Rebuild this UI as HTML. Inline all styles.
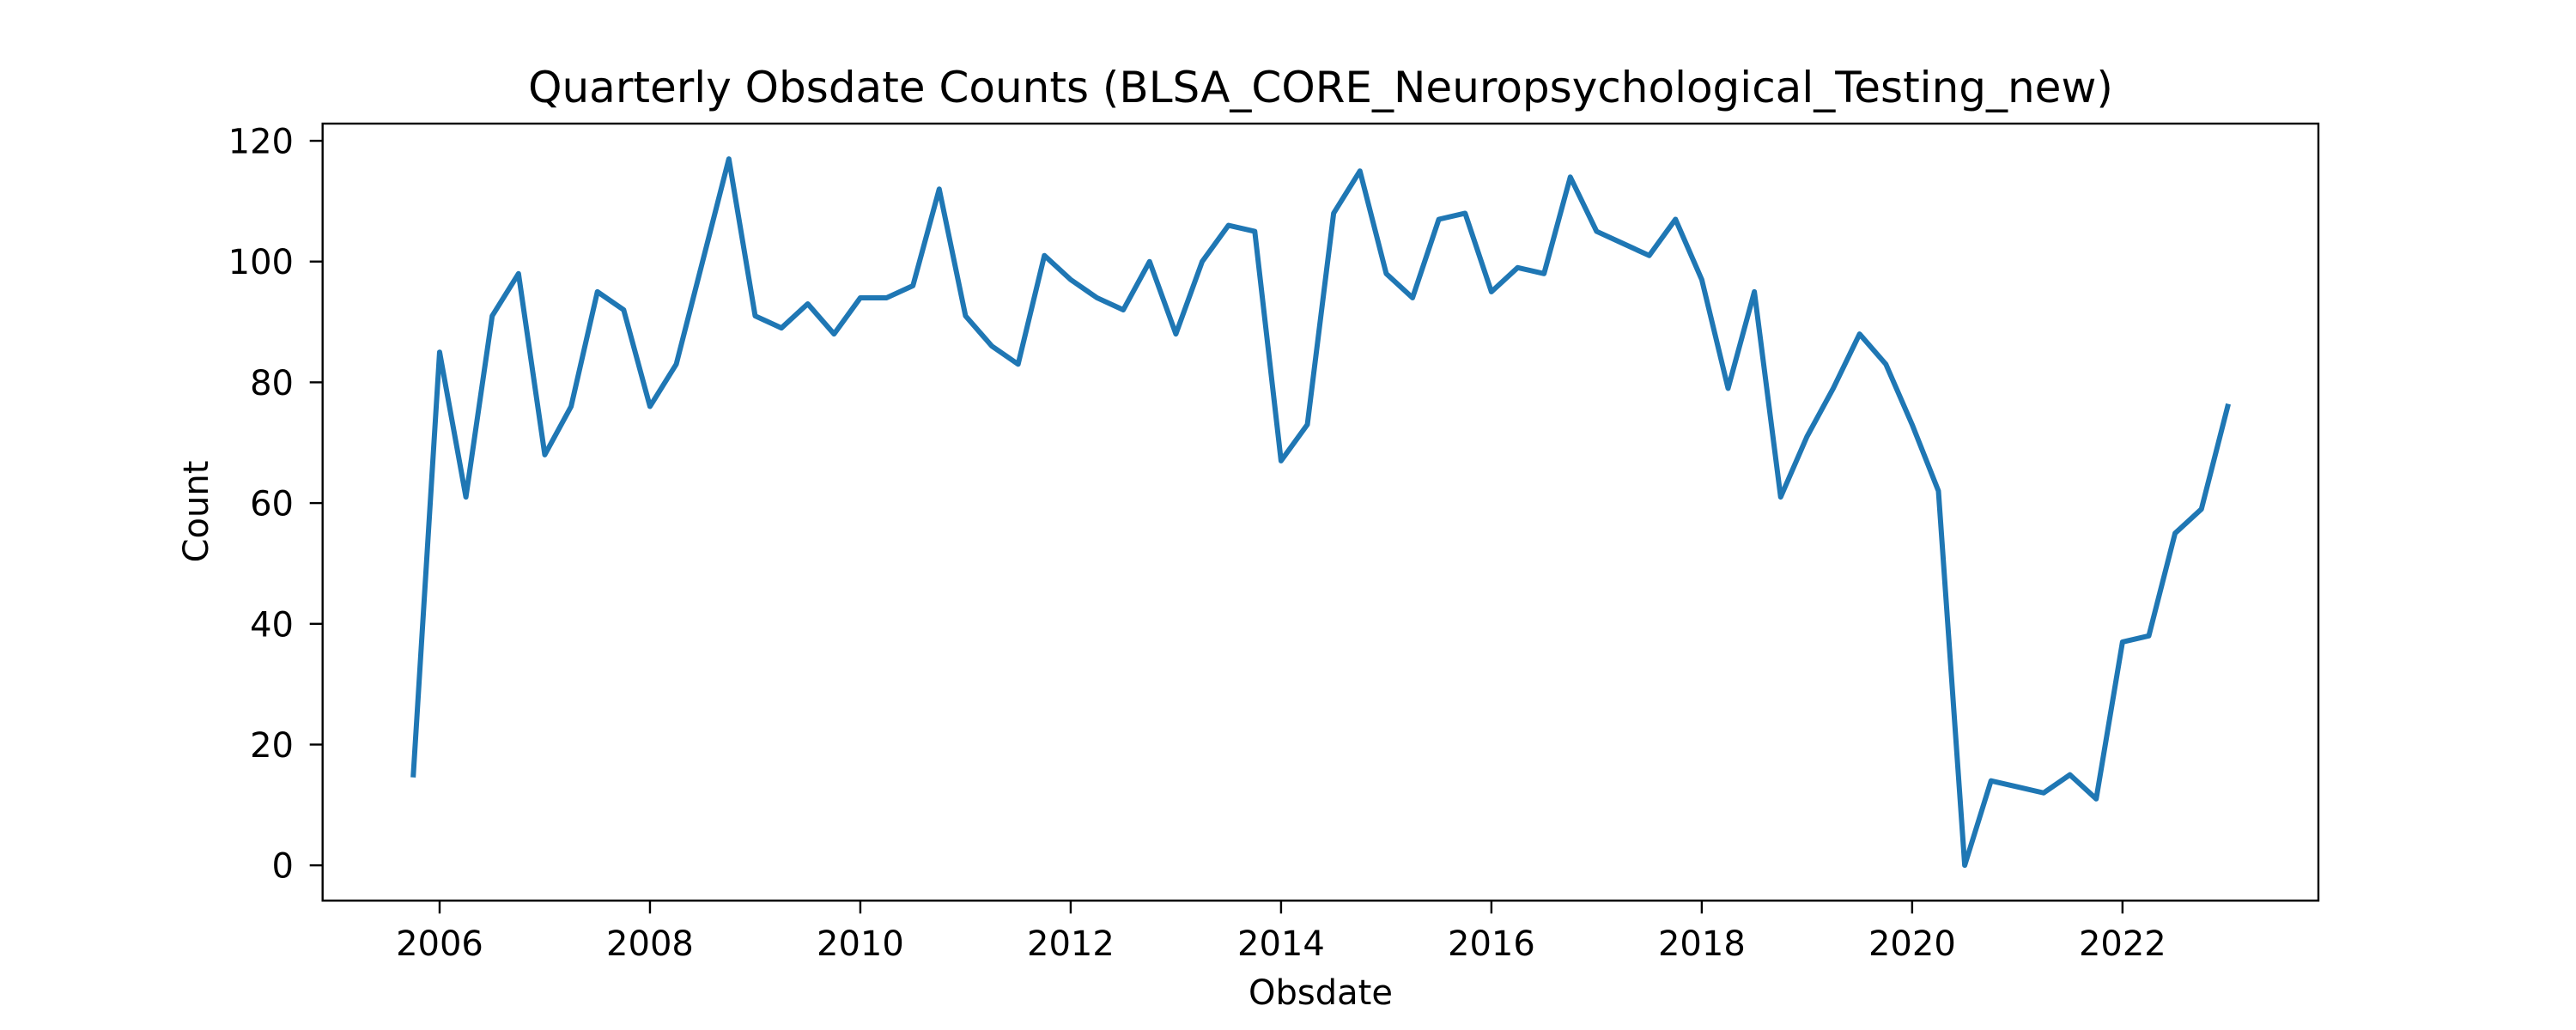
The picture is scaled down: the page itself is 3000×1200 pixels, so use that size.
<!DOCTYPE html>
<html><head><meta charset="utf-8"><style>
html,body{margin:0;padding:0;background:#fff;}
svg{display:block;font-family:"DejaVu Sans","Liberation Sans",sans-serif;}
</style></head><body>
<svg id="chart" width="3000" height="1200" viewBox="0 0 3000 1200" xmlns="http://www.w3.org/2000/svg">
<rect width="3000" height="1200" fill="#fff"/>
<text x="1538" y="119" font-size="50" text-anchor="middle">Quarterly Obsdate Counts (BLSA_CORE_Neuropsychological_Testing_new)</text>
<g id="plot"></g>
<text x="1538" y="1170" font-size="40" text-anchor="middle">Obsdate</text>
<text transform="translate(242,596) rotate(-90)" font-size="40" text-anchor="middle">Count</text>
</svg>
<script>
const startYear = 2005.75;
const quarterStep = 0.25;
const counts = [15,85,61,91,98,68,76,95,92,76,83,100,117,91,89,93,88,94,94,96,112,91,86,83,101,97,94,92,100,88,100,106,105,67,73,108,115,98,94,107,108,95,99,98,114,105,103,101,107,97,79,95,61,71,79,88,83,73,62,0,14,13,12,15,11,37,38,55,59,76];
const xTicks = [2006,2008,2010,2012,2014,2016,2018,2020,2022];
const yTicks = [0,20,40,60,80,100,120];

const NS = "http://www.w3.org/2000/svg";
const L = 375.7, R = 2700, T = 144, B = 1049.3;
const xs = counts.map((_, i) => startYear + i * quarterStep);
const xMinD = Math.min(...xs), xMaxD = Math.max(...xs);
const yMinD = Math.min(...counts), yMaxD = Math.max(...counts);
const xPad = (xMaxD - xMinD) * 0.05, yPad = (yMaxD - yMinD) * 0.05;
const x0 = xMinD - xPad, x1 = xMaxD + xPad, y0 = yMinD - yPad, y1 = yMaxD + yPad;
const xScale = v => L + (v - x0) / (x1 - x0) * (R - L);
const yScale = v => B - (v - y0) / (y1 - y0) * (B - T);
const plot = document.getElementById('plot');
function mk(tag, attrs) { const e = document.createElementNS(NS, tag); for (const k in attrs) e.setAttribute(k, attrs[k]); return e; }

const pts = counts.map((c, i) => xScale(xs[i]).toFixed(2) + "," + yScale(c).toFixed(2)).join(" ");
const line = mk('polyline', {points: pts, fill: 'none', stroke: '#1f77b4', 'stroke-width': 6, 'stroke-linejoin': 'round', 'stroke-linecap': 'square'});


plot.appendChild(line);

xTicks.forEach(t => {
  const x = xScale(t);
  const tk = mk('line', {x1: x, x2: x, y1: B, y2: B + 15, stroke: '#000', 'stroke-width': 2.4});
  
  
  plot.appendChild(tk);
  const tx = mk('text', {x: x, y: 1113, 'font-size': 40, 'text-anchor': 'middle'});
  
  
  tx.textContent = String(t);
  plot.appendChild(tx);
});
yTicks.forEach(t => {
  const y = yScale(t);
  const tk = mk('line', {x1: L - 15, x2: L, y1: y, y2: y, stroke: '#000', 'stroke-width': 2.4});
  
  
  plot.appendChild(tk);
  const tx = mk('text', {x: 342, y: y + 14.5, 'font-size': 40, 'text-anchor': 'end'});
  
  
  tx.textContent = String(t);
  plot.appendChild(tx);
});
const frame = mk('rect', {x: L, y: T, width: R - L, height: B - T, fill: 'none', stroke: '#000', 'stroke-width': 2.4});


plot.appendChild(frame);
</script>
</body></html>
